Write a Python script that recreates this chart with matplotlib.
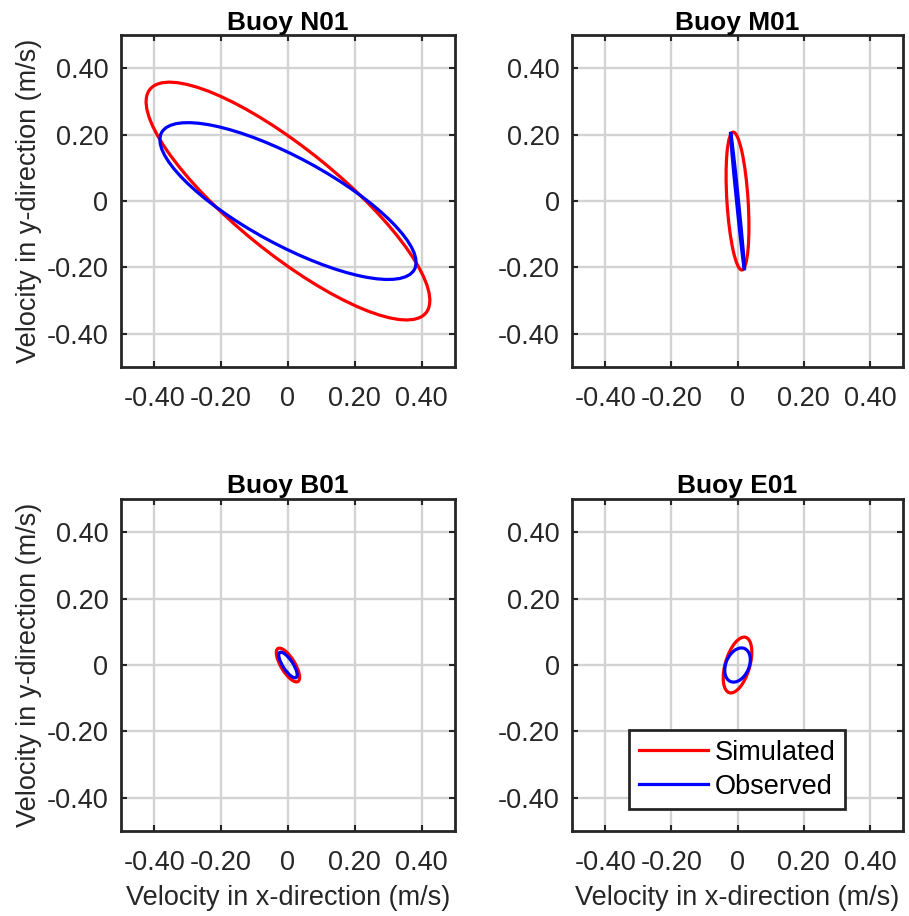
import matplotlib

matplotlib.use("Agg")
import matplotlib.pyplot as plt
from matplotlib.lines import Line2D
from matplotlib.patches import Ellipse

plt.rcParams["font.family"] = ["Liberation Sans", "DejaVu Sans"]

# tidal ellipse parameters (m/s, degrees from +x)
buoys = ["N01", "M01", "B01", "E01"]
sim_major = [0.533, 0.208, 0.058, 0.087]
sim_minor = [0.157, 0.032, 0.021, 0.037]
sim_angle = [-39.2, 93.6, 121.0, 73.6]
obs_major = [0.431, 0.209, 0.045, 0.054]
obs_minor = [0.131, 0.003, 0.015, 0.035]
obs_angle = [-28.6, 95.8, 123.0, 66.6]

ticks = [-0.4, -0.2, 0.0, 0.2, 0.4]
tick_labels = ["-0.40", "-0.20", "0", "0.20", "0.40"]

TXT = "#262626"
SIM_COLOR = "#ff0000"
OBS_COLOR = "#0000ff"
FS = 19.5

fig = plt.figure(figsize=(9.09, 9.16), dpi=100)
positions = [
    [0.1331, 0.5993, 0.3674, 0.3624],
    [0.6293, 0.5993, 0.3641, 0.3624],
    [0.1331, 0.0928, 0.3674, 0.3624],
    [0.6293, 0.0928, 0.3641, 0.3624],
]

for i, name in enumerate(buoys):
    ax = fig.add_axes(positions[i])
    ax.add_patch(Ellipse((0, 0), 2 * sim_major[i], 2 * sim_minor[i], angle=sim_angle[i],
                         fill=False, edgecolor=SIM_COLOR, lw=2.3, zorder=3))
    ax.add_patch(Ellipse((0, 0), 2 * obs_major[i], 2 * obs_minor[i], angle=obs_angle[i],
                         fill=False, edgecolor=OBS_COLOR, lw=2.3, zorder=4))
    ax.set_xlim(-0.5, 0.5)
    ax.set_ylim(-0.5, 0.5)
    ax.set_xticks(ticks, tick_labels)
    ax.set_yticks(ticks, tick_labels)
    ax.grid(True, color="#d3d3d3", lw=1.7)
    ax.set_axisbelow(True)
    ax.tick_params(direction="in", top=True, right=True, length=4, width=1.5,
                   color=TXT, labelcolor=TXT, labelsize=FS)
    ax.tick_params(axis="x", pad=14)
    ax.tick_params(axis="y", pad=9)
    for sp in ax.spines.values():
        sp.set_color(TXT)
        sp.set_linewidth(2.0)
    ax.set_title(f"Buoy {name}", fontsize=19, fontweight="bold", color="black", pad=4)
    if i % 2 == 0:
        ax.set_ylabel("Velocity in y-direction (m/s)", fontsize=FS, color=TXT, labelpad=3)
    if i >= 2:
        ax.set_xlabel("Velocity in x-direction (m/s)", fontsize=FS, color=TXT, labelpad=6)
    if i == 3:
        handles = [Line2D([], [], color=SIM_COLOR, lw=2.3), Line2D([], [], color=OBS_COLOR, lw=2.3)]
        leg = ax.legend(handles, ["Simulated", "Observed"], loc="lower right",
                        bbox_to_anchor=(0.825, 0.065), fontsize=FS, fancybox=False,
                        handlelength=2.55, handletextpad=0.25, borderpad=0.35, labelspacing=0.3,
                        borderaxespad=0)
        leg.get_frame().set_edgecolor(TXT)
        leg.get_frame().set_linewidth(2.0)
        leg.get_frame().set_alpha(1)

fig.savefig("out.png", dpi=100)
plt.close(fig)
